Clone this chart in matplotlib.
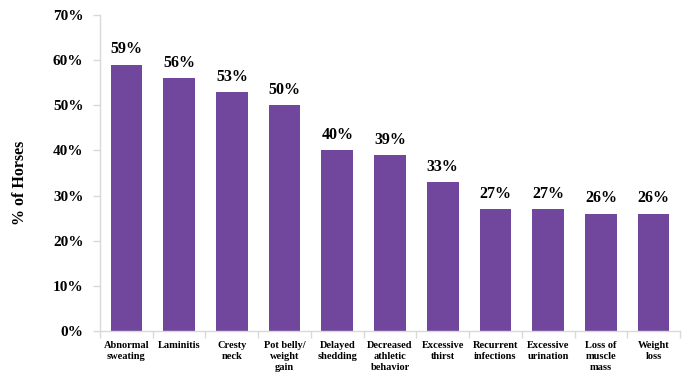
import matplotlib.pyplot as plt
from matplotlib.ticker import PercentFormatter, FixedLocator

# Symptom frequency among affected horses
symptoms = ['Abnormal\nsweating', 'Laminitis', 'Cresty\nneck', 'Pot belly/\nweight\ngain',
            'Delayed\nshedding', 'Decreased\nathletic\nbehavior', 'Excessive\nthirst',
            'Recurrent\ninfections', 'Excessive\nurination', 'Loss of\nmuscle\nmass', 'Weight\nloss']
pct_horses = [59, 56, 53, 50, 40, 39, 33, 27, 27, 26, 26]

plt.rcParams['font.family'] = ['Liberation Serif', 'DejaVu Serif']
plt.rcParams['font.weight'] = 'bold'

fig = plt.figure(figsize=(6.9, 3.76), dpi=100)
ax = fig.add_axes([0.145, 0.12, 0.8405, 0.84])

x = range(len(symptoms))
ax.bar(x, pct_horses, width=0.6, color='#71479E', zorder=2)

for xi, v in zip(x, pct_horses):
    ax.text(xi, v + 1.6, f'{v}%', ha='center', va='bottom', fontsize=11.5, fontweight='bold')

ax.set_xlim(-0.5, len(symptoms) - 0.5)
ax.set_ylim(0, 70)
ax.set_yticks(range(0, 71, 10))
ax.yaxis.set_major_formatter(PercentFormatter(decimals=0))
ax.tick_params(axis='y', labelsize=11, length=5, color='#D9D9D9', width=1, pad=7)

ax.set_xticks(list(x))
ax.set_xticklabels(symptoms, fontsize=7.5, fontweight='bold', linespacing=1.32, va='top')
ax.tick_params(axis='x', which='major', length=0, pad=7)
# separator ticks between categories
ax.xaxis.set_minor_locator(FixedLocator([i - 0.5 for i in range(len(symptoms) + 1)]))
ax.tick_params(axis='x', which='minor', length=5, color='#D9D9D9', width=1)

for side in ['top', 'right']:
    ax.spines[side].set_visible(False)
for side in ['left', 'bottom']:
    ax.spines[side].set_color('#D9D9D9')
    ax.spines[side].set_linewidth(1)

ax.set_ylabel('% of Horses', fontsize=11.5, fontweight='bold')
ax.yaxis.set_label_coords(-0.125, 0.47)

fig.savefig('out.png', dpi=100)
